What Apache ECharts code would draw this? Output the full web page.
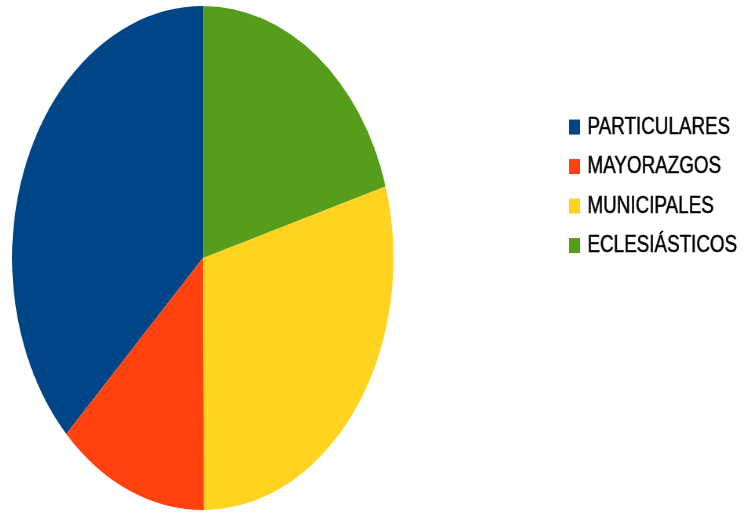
<!DOCTYPE html>
<html>
<head>
<meta charset="utf-8">
<script src="https://cdn.jsdelivr.net/npm/echarts@6/dist/echarts.min.js"></script>
<style>
  html, body { margin: 0; padding: 0; background: #ffffff; }
  #wrap { position: relative; width: 747px; height: 513px; overflow: hidden; background: #ffffff; }
  /* the whole chart is stretched narrower, so the pie becomes an ellipse */
  #pie { position: absolute; left: 0; top: 0; width: 540px; height: 513px;
         transform-origin: 0 0; transform: scaleX(0.7567); }
  #legend { position: absolute; left: 568.7px; top: 0; width: 240px; height: 513px;
            transform-origin: 0 0; transform: scaleX(0.785); }
</style>
</head>
<body>
<div id="wrap">
  <div id="pie"></div>
  <div id="legend"></div>
</div>
<script>
// Propiedad por tipo de titular (%)
const categories = ['PARTICULARES', 'MAYORAZGOS', 'MUNICIPALES', 'ECLESIÁSTICOS'];
const values = [37.3, 12.8, 29.5, 20.4];
const colors = ['#004586', '#ff420e', '#ffd320', '#579d1c'];

const seriesData = categories.map((name, i) => ({ name: name, value: values[i] }));

const pieChart = echarts.init(document.getElementById('pie'), null, { renderer: 'canvas' });
pieChart.setOption({
  animation: false,
  color: colors,
  series: [{
    type: 'pie',
    center: [268, 258],
    radius: 252,
    startAngle: 90,
    clockwise: false,
    label: { show: false },
    labelLine: { show: false },
    emphasis: { disabled: true },
    itemStyle: { borderWidth: 0 },
    data: seriesData
  }]
});

const legendChart = echarts.init(document.getElementById('legend'), null, { renderer: 'canvas' });
legendChart.setOption({
  animation: false,
  color: colors,
  legend: {
    orient: 'vertical',
    left: 0,
    top: 114.8,
    padding: 0,
    icon: 'rect',
    itemWidth: 14,
    itemHeight: 15,
    itemGap: 15,
    selectedMode: false,
    textStyle: {
      fontFamily: '"Liberation Sans", Arial, sans-serif',
      fontSize: 24,
      lineHeight: 24,
      color: '#000000',
      textBorderColor: '#000000',
      textBorderWidth: 0.5,
      padding: [0, 0, 0, 4.5]
    },
    data: categories
  },
  series: [{
    type: 'pie',
    radius: 0,
    center: [-500, -500],
    label: { show: false },
    silent: true,
    data: seriesData
  }]
});
</script>
</body>
</html>
